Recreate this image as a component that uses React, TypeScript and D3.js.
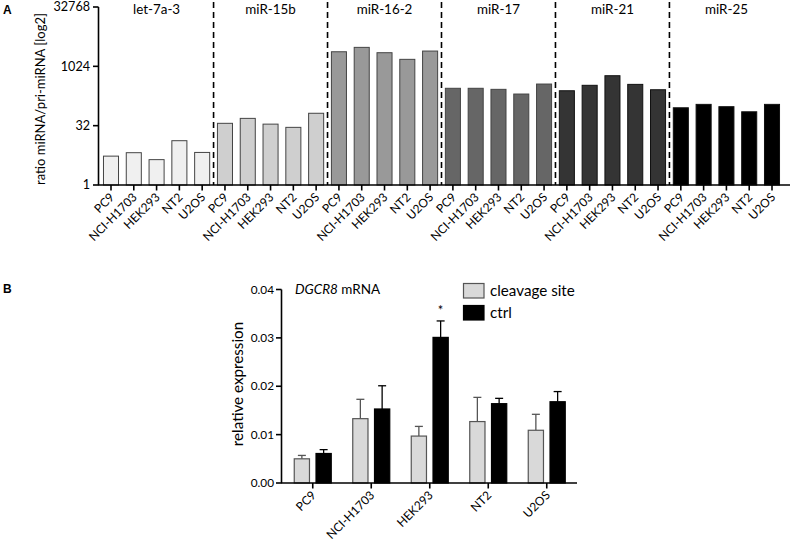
import React from "react";
import * as d3 from "d3";

const groups = ["let-7a-3", "miR-15b", "miR-16-2", "miR-17", "miR-21", "miR-25"];
const cells = ["PC9", "NCI-H1703", "HEK293", "NT2", "U2OS"];
const groupColors = ["#f0f0f0", "#cfcfcf", "#999999", "#666666", "#343434", "#000000"];
const ratioValues = [
  [5.4, 6.6, 4.4, 13.3, 6.7],
  [36.7, 49, 35, 29, 66],
  [2400, 3100, 2270, 1540, 2500],
  [284, 284, 267, 203, 364],
  [246, 338, 592, 357, 261],
  [91, 111, 97, 72, 111],
];
const ratioTicks = [1, 32, 1024, 32768];

const seriesB = ["cleavage site", "ctrl"];
const seriesColors = ["#d9d9d9", "#000000"];
const meanB = [
  [0.0050, 0.0133, 0.0097, 0.0127, 0.0109],
  [0.0061, 0.0153, 0.0301, 0.0164, 0.0168],
];
const errB = [
  [0.0007, 0.0040, 0.0020, 0.0050, 0.0033],
  [0.0008, 0.0048, 0.0034, 0.0011, 0.0021],
];
const exprTicks = [0, 0.01, 0.02, 0.03, 0.04];

const FONT = "Lato, 'Noto Sans', sans-serif";

export default function App() {
  const W = 792, H = 551;
  // Panel A
  const barKeys = groups.flatMap((g, gi) => cells.map((c, ci) => `${gi}-${ci}`));
  const xA = d3.scaleBand<string>().domain(barKeys).range([99.6, 783.4]).paddingInner(0.34).paddingOuter(0.17);
  const yA = d3.scaleLog().base(2).domain([1, 32768]).range([185, 7]);
  const stepA = xA.step();

  // Panel B
  const x0 = d3.scaleBand<string>().domain(cells).range([283.5, 576]).paddingInner(0).paddingOuter(0);
  const x1 = d3.scaleBand<string>().domain(seriesB).range([-18.5, 18.5]).paddingInner(0.3);
  const yB = d3.scaleLinear().domain([0, 0.04]).range([483, 289.5]);

  return (
    <svg width={W} height={H} style={{ position: "absolute", left: 0, top: 0, fontFamily: FONT }}>
      <rect width={W} height={H} fill="#fff" />
      {/* Panel A */}
      <text x={3} y={14} fontSize={12} fontWeight="bold" fontFamily="'Liberation Sans', Arial, sans-serif">A</text>
      {groups.map((g, gi) =>
        cells.map((c, ci) => {
          const key = `${gi}-${ci}`;
          const v = ratioValues[gi][ci];
          const x = xA(key)!;
          return (
            <rect key={key} x={x} y={yA(v)} width={xA.bandwidth()} height={185 - yA(v)}
              fill={groupColors[gi]} stroke={gi >= 4 ? "#111" : "#444"} strokeWidth={1} />
          );
        })
      )}
      {/* dashed separators */}
      {groups.slice(1).map((g, gi) => {
        const k = `${gi + 1}-0`;
        const xx = xA(k)! - (stepA - xA.bandwidth()) / 2;
        return <line key={g} x1={xx} x2={xx} y1={2} y2={185} stroke="#000" strokeWidth={1.6} strokeDasharray="6,4" />;
      })}
      {/* group labels */}
      {groups.map((g, gi) => {
        const a = xA(`${gi}-0`)!, b = xA(`${gi}-4`)! + xA.bandwidth();
        return <text key={g} x={(a + b) / 2} y={14} textAnchor="middle" fontSize={13.4}>{g}</text>;
      })}
      {/* y axis A */}
      <line x1={98.5} x2={98.5} y1={7} y2={185} stroke="#000" strokeWidth={1.6} />
      {ratioTicks.map((t) => (
        <g key={t}>
          <line x1={93} x2={98.5} y1={yA(t)} y2={yA(t)} stroke="#000" strokeWidth={1.6} />
          <text x={90} y={yA(t)} dy="0.35em" textAnchor="end" fontSize={12.6}>{t}</text>
        </g>
      ))}
      <text transform={`translate(45,99) rotate(-90)`} textAnchor="middle" fontSize={13}>ratio miRNA/pri-miRNA [log2]</text>
      {/* x axis A */}
      <line x1={98} x2={790} y1={185} y2={185} stroke="#000" strokeWidth={1.6} />
      {barKeys.map((k) => {
        const cx = xA(k)! + xA.bandwidth() / 2;
        const ci = +k.split("-")[1];
        return (
          <g key={k}>
            <line x1={cx} x2={cx} y1={185} y2={190.5} stroke="#000" strokeWidth={1.6} />
            <text transform={`translate(${cx + 4},${198}) rotate(-45)`} textAnchor="end" fontSize={12}>{cells[ci]}</text>
          </g>
        );
      })}

      {/* Panel B */}
      <text x={3} y={293} fontSize={12} fontWeight="bold" fontFamily="'Liberation Sans', Arial, sans-serif">B</text>
      {cells.map((c, ci) => {
        const cx = x0(c)! + x0.bandwidth() / 2;
        return (
          <g key={c}>
            {seriesB.map((s, si) => {
              const v = meanB[si][ci];
              const e = errB[si][ci];
              const bx = cx + x1(s)!;
              const bw = x1.bandwidth();
              const mx = bx + bw / 2;
              const lc = si === 0 ? "#555" : "#000";
              return (
                <g key={s}>
                  <line x1={mx} x2={mx} y1={yB(v)} y2={yB(v + e)} stroke={lc} strokeWidth={1.3} />
                  <line x1={mx - 4} x2={mx + 4} y1={yB(v + e)} y2={yB(v + e)} stroke={lc} strokeWidth={1.3} />
                  <rect x={bx} y={yB(v)} width={bw} height={yB(0) - yB(v)} fill={seriesColors[si]}
                    stroke={si === 0 ? "#555" : "#000"} strokeWidth={1.2} />
                </g>
              );
            })}
          </g>
        );
      })}
      <text x={x0("HEK293")! + x0.bandwidth() / 2 + x1("ctrl")! + x1.bandwidth() / 2} y={315}
        textAnchor="middle" fontSize={13}>*</text>
      {/* axes B */}
      <line x1={281.5} x2={281.5} y1={289.5} y2={483} stroke="#000" strokeWidth={1.6} />
      {exprTicks.map((t) => (
        <g key={t}>
          <line x1={276} x2={281.5} y1={yB(t)} y2={yB(t)} stroke="#000" strokeWidth={1.6} />
          <text x={274} y={yB(t)} dy="0.35em" textAnchor="end" fontSize={11.8}>{t.toFixed(2)}</text>
        </g>
      ))}
      <line x1={281} x2={577} y1={483} y2={483} stroke="#000" strokeWidth={1.6} />
      {cells.map((c) => {
        const cx = x0(c)! + x0.bandwidth() / 2;
        return (
          <g key={c}>
            <line x1={cx} x2={cx} y1={483} y2={488.5} stroke="#000" strokeWidth={1.6} />
            <text transform={`translate(${cx + 4},${496}) rotate(-45)`} textAnchor="end" fontSize={12}>{c}</text>
          </g>
        );
      })}
      <text transform={`translate(243,384) rotate(-90)`} textAnchor="middle" fontSize={15.2}>relative expression</text>
      <text x={295} y={294} fontSize={13.5}><tspan fontStyle="italic">DGCR8</tspan> mRNA</text>
      {/* legend */}
      {seriesB.map((s, si) => (
        <g key={s}>
          <rect x={463.5} y={283.5 + si * 22} width={20.5} height={14.5} fill={seriesColors[si]} stroke={si === 0 ? "#555" : "#000"} strokeWidth={1.2} />
          <text x={490} y={291 + si * 22} dy="0.35em" fontSize={15.2}>{s}</text>
        </g>
      ))}
    </svg>
  );
}
